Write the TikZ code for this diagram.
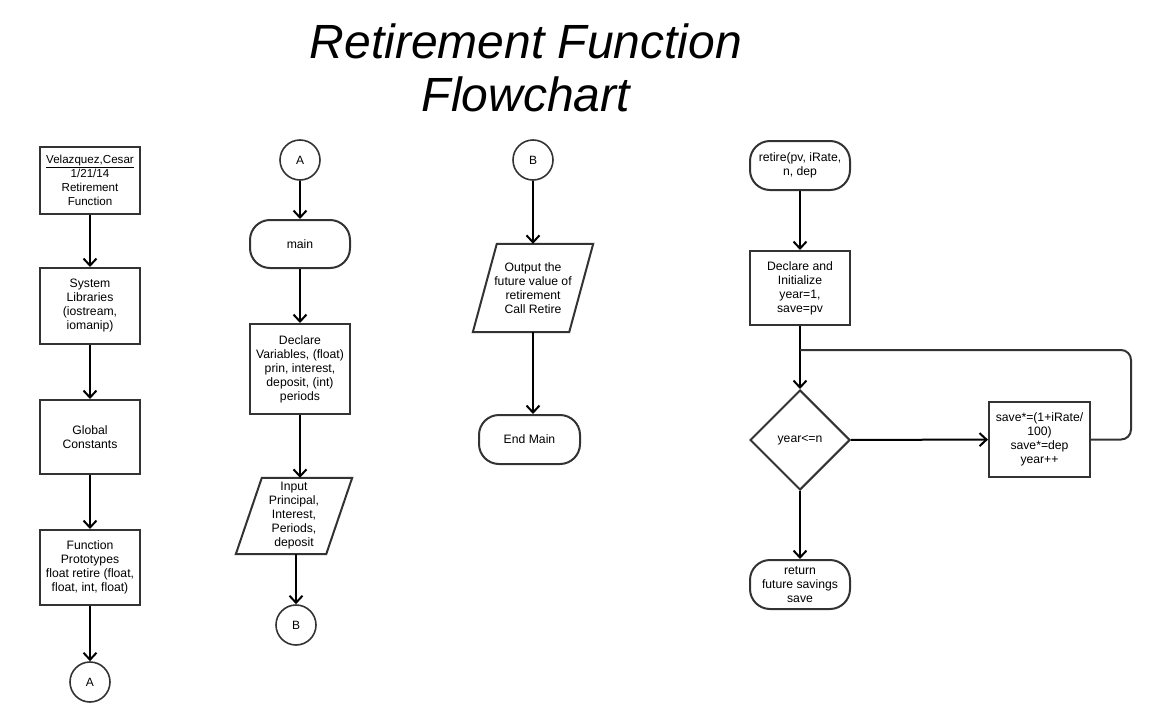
\documentclass[tikz,border=0pt]{standalone}
\usepackage{fontspec}
\setmainfont{Liberation Sans}
\usetikzlibrary{shapes.geometric,arrows.meta}

\tikzset{
    box/.style={draw=black!80, line width=2pt, align=center, font=\fontsize{12.2}{14}\selectfont,
        minimum width=100pt, inner sep=1pt},
    term/.style={box, rounded corners=20pt, minimum height=48pt},
    conn/.style={draw=black!80, line width=1.6pt, circle, minimum size=40pt, inner sep=0pt,
        font=\fontsize{12}{14}\selectfont},
    io/.style={align=center, font=\fontsize{12.2}{14}\selectfont, inner sep=0pt},
    flow/.style={line width=2pt, -{Straight Barb[length=7pt,width=13pt,line width=2pt]}},
}

\begin{document}
\begin{tikzpicture}[x=1pt, y=-1pt]
    \useasboundingbox (0,0) rectangle (1154,720);

    % 1. Title
    \node[font=\fontsize{48}{53}\selectfont\itshape, align=center] (title) at (526,68)
        {Retirement Function\\Flowchart};

    % 2. First column: header and declarations
    \node[box, minimum height=67pt, font=\fontsize{11.6}{14}\selectfont] (head) at (90,180.5)
        {\underline{Velazquez,Cesar}\\1/21/14\\Retirement\\Function};
    \node[box, minimum height=76pt] (libs) at (90,306) {System\\Libraries\\(iostream,\\iomanip)};
    \node[box, minimum height=74pt] (consts) at (90,437) {Global\\Constants};
    \node[box, minimum height=75pt] (protos) at (90,567.5)
        {Function\\Prototypes\\float retire (float,\\float, int, float)};
    \node[conn] (offA) at (90,682) {A};

    \draw[flow] (head) -- (libs);
    \draw[flow] (libs) -- (consts);
    \draw[flow] (consts) -- (protos);
    \draw[flow] (protos) -- (offA);

    % 3. Second column: main
    \node[conn] (onA) at (300,160) {A};
    \node[term, minimum height=48pt] (main) at (300,244) {main};
    \node[box, minimum height=90pt] (decl) at (300,369)
        {Declare\\Variables, (float)\\prin, interest,\\deposit, (int)\\periods};
    \node[io, minimum width=90pt, minimum height=76pt] (input) at (294,516)
        {Input\\Principal,\\Interest,\\Periods,\\deposit};
    \draw[black!80, line width=2pt]
        ([xshift=13pt]input.north west) -- ([xshift=13pt]input.north east)
        -- ([xshift=-13pt]input.south east) -- ([xshift=-13pt]input.south west) -- cycle;
    \node[conn] (offB) at (296,625) {B};

    \draw[flow] (onA) -- (main);
    \draw[flow] (main) -- (decl);
    \draw[flow] (decl) -- (decl |- input.north);
    \draw[flow] (input.south -| offB) -- (offB);

    % 4. Third column: output
    \node[conn] (onB) at (533,160) {B};
    \node[io, minimum width=96pt, minimum height=88pt] (output) at (533,288)
        {Output the\\future value of\\retirement\\Call Retire};
    \draw[black!80, line width=2pt]
        ([xshift=12pt]output.north west) -- ([xshift=12pt]output.north east)
        -- ([xshift=-12pt]output.south east) -- ([xshift=-12pt]output.south west) -- cycle;
    \node[term, minimum width=101pt, minimum height=49pt] (endmain) at (529.5,439.5) {End Main};

    \draw[flow] (onB) -- (output);
    \draw[flow] (output.south) -- (output.south |- endmain.north);

    % 5. Fourth column: retire function
    \node[term, minimum height=49pt] (retire) at (800,165.5) {retire(pv, iRate,\\n, dep};
    \node[box, minimum height=74pt] (init) at (800,288)
        {Declare and\\Initialize\\year=1,\\save=pv};
    \node[draw=black!80, line width=2pt, diamond, minimum width=100pt, minimum height=100pt,
        inner sep=0pt, font=\fontsize{12.2}{14}\selectfont] (test) at (800,440) {year<=n};
    \node[box, minimum width=101pt, minimum height=75pt] (body) at (1039.5,439.5)
        {save*=(1+iRate/\\100)\\save*=dep\\year++};
    \node[term, minimum height=49pt] (ret) at (800,584.5) {return\\future savings\\save};
    \coordinate (join) at (800,350);

    \draw[flow] (retire) -- (init);
    \draw[flow] (init) -- (test);
    \draw[flow] (test) -- (body);
    \draw[flow] (test) -- (ret);
    \draw[line width=2pt, black!80, rounded corners=10pt]
        (body.east) -- ++(40,0) |- (join);
\end{tikzpicture}
\end{document}
